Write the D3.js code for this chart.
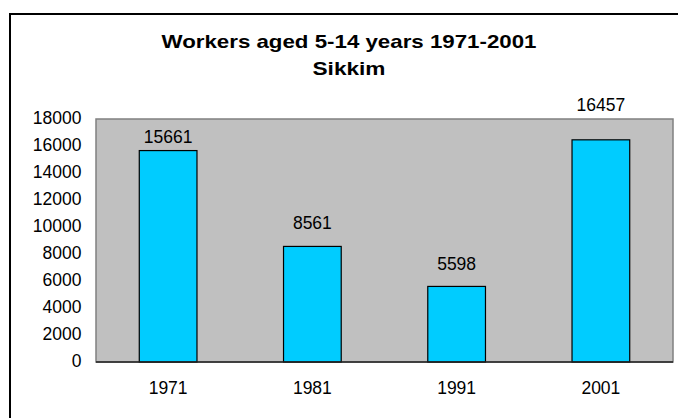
<!DOCTYPE html>
<html>
<head>
<meta charset="utf-8">
<script src="https://cdn.jsdelivr.net/npm/d3@7"></script>
<style>
  html, body { margin: 0; padding: 0; background: #fff; }
  svg { display: block; font-family: "Liberation Sans", Arial, sans-serif; }
</style>
</head>
<body>
<svg id="chart" width="678" height="418"></svg>
<script>
// ---- data ----
const categories = ["1971", "1981", "1991", "2001"];
const workers = [15661, 8561, 5598, 16457];
const yTicks = [0, 2000, 4000, 6000, 8000, 10000, 12000, 14000, 16000, 18000];
const titleLines = ["Workers aged 5-14 years 1971-2001", "Sikkim"];
// label nudges above bar tops (px), as placed in the original
const labelOffsets = [8, 17, 16, 29];

// ---- layout ----
const plot = { left: 96, top: 119, right: 673, bottom: 362 };
const svg = d3.select("#chart");
const FS = "17.5px";

// outer chart border (left and top visible; extends past window)
svg.append("rect")
  .attr("x", 10).attr("y", 14)
  .attr("width", 700).attr("height", 450)
  .attr("fill", "none").attr("stroke", "#000").attr("stroke-width", 2);

const x = d3.scaleBand()
  .domain(categories)
  .range([plot.left, plot.right])
  .paddingInner(0.6).paddingOuter(0.3);

const y = d3.scaleLinear()
  .domain([0, 18000])
  .range([plot.bottom, plot.top]);

// plot area
svg.append("rect")
  .attr("x", plot.left).attr("y", plot.top)
  .attr("width", plot.right - plot.left).attr("height", plot.bottom - plot.top)
  .attr("fill", "#c0c0c0").attr("stroke", "#808080").attr("stroke-width", 1.5);

// y axis labels
const yAxis = d3.axisLeft(y).tickValues(yTicks).tickSize(0).tickPadding(14.5).tickFormat(d3.format("d"));
const ya = svg.append("g").attr("transform", `translate(${plot.left},0)`).call(yAxis);
ya.select(".domain").remove();
ya.selectAll("text")
  .attr("font-size", FS).attr("fill", "#000")
  .attr("font-family", "Liberation Sans, Arial, sans-serif")
  .attr("dy", "0.23em");

// bars
svg.append("g").selectAll("rect")
  .data(workers)
  .join("rect")
  .attr("x", (d, i) => x(categories[i]))
  .attr("y", d => y(d))
  .attr("width", x.bandwidth())
  .attr("height", d => y(0) - y(d))
  .attr("fill", "#00ccff")
  .attr("stroke", "#000").attr("stroke-width", 1.2);

// zero axis line
svg.append("line")
  .attr("x1", plot.left).attr("x2", plot.right)
  .attr("y1", y(0)).attr("y2", y(0))
  .attr("stroke", "#222").attr("stroke-width", 1.5);

// x axis labels
const xAxis = d3.axisBottom(x).tickSize(0).tickPadding(20);
const xa = svg.append("g").attr("transform", `translate(0,${plot.bottom})`).call(xAxis);
xa.select(".domain").remove();
xa.selectAll("text")
  .attr("font-size", FS).attr("fill", "#000")
  .attr("font-family", "Liberation Sans, Arial, sans-serif");

// value labels
svg.append("g").selectAll("text")
  .data(workers)
  .join("text")
  .attr("x", (d, i) => x(categories[i]) + x.bandwidth() / 2)
  .attr("y", (d, i) => y(d) - labelOffsets[i])
  .attr("text-anchor", "middle")
  .attr("font-size", FS).attr("fill", "#000")
  .text(d => d);

// title
const titleY = [47.7, 75];
const titleW = [375, 73];
svg.append("g").selectAll("text")
  .data(titleLines)
  .join("text")
  .attr("x", 349)
  .attr("y", (d, i) => titleY[i])
  .attr("text-anchor", "middle")
  .attr("font-size", "19px").attr("font-weight", "bold").attr("fill", "#000")
  .attr("textLength", (d, i) => titleW[i])
  .attr("lengthAdjust", "spacingAndGlyphs")
  .text(d => d);
</script>
</body>
</html>
